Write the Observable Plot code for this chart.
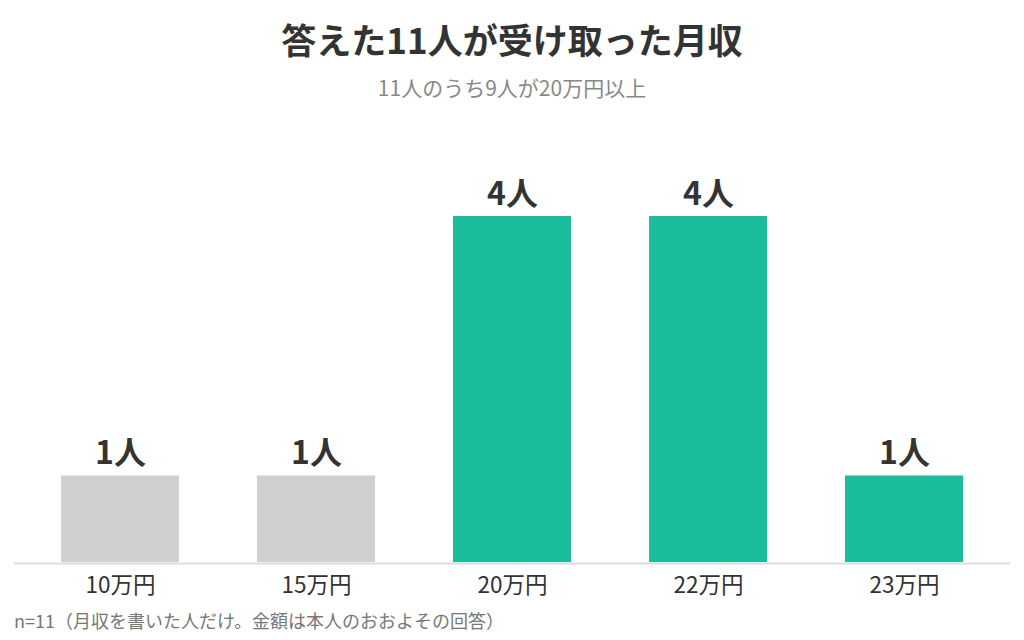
<!DOCTYPE html>
<html>
<head>
<meta charset="utf-8">
<script src="https://cdn.jsdelivr.net/npm/d3@7"></script>
<script src="https://cdn.jsdelivr.net/npm/@observablehq/plot@0.6"></script>
<style>
  html, body { margin: 0; padding: 0; background: #fff; }
  body { font-family: "Noto Sans CJK JP", "Noto Sans", sans-serif; }
  #wrap { position: relative; width: 1024px; height: 640px; overflow: hidden; }
  #title { position: absolute; left: 0; width: 1024px; top: 19px; line-height: 40px; text-align: center;
           font-size: 35px; font-weight: 700; color: #333; }
  #subtitle { position: absolute; left: 0; width: 1024px; top: 75px; line-height: 24px; text-align: center;
              font-size: 21px; color: #888; }
  #chart { position: absolute; left: 0; top: 110px; }
  #caption { position: absolute; left: 14px; top: 610px; line-height: 20px; font-size: 18px; color: #777; }
</style>
</head>
<body>
<div id="wrap">
  <div id="title">答えた11人が受け取った月収</div>
  <div id="subtitle">11人のうち9人が20万円以上</div>
  <div id="chart"></div>
  <div id="caption">n=11（月収を書いた人だけ。金額は本人のおおよその回答）</div>
</div>
<script>
const categories = ["10万円", "15万円", "20万円", "22万円", "23万円"];
const counts = [1, 1, 4, 4, 1];
const highlighted = [false, false, true, true, true];
const unit = "人";

const data = categories.map((c, i) => ({
  label: c,
  count: counts[i],
  group: highlighted[i] ? "20万円以上" : "20万円未満"
}));

const chart = Plot.plot({
  width: 1024,
  height: 500,
  marginLeft: 14,
  marginRight: 14,
  marginTop: 106,
  marginBottom: 48,
  style: { fontFamily: "'Noto Sans CJK JP', 'Noto Sans', sans-serif", background: "transparent" },
  x: { domain: categories, paddingInner: 0.4, paddingOuter: 0.234, label: null },
  y: { domain: [0, 4], axis: null },
  color: { domain: ["20万円未満", "20万円以上"], range: ["#d0d0d0", "#1abc9c"] },
  marks: [
    Plot.barY(data, { x: "label", y: "count", fill: "group" }),
    Plot.ruleY([0], { stroke: "#dcdcdc", strokeWidth: 2, dy: 1 }),
    Plot.text(data, {
      x: "label", y: "count", text: d => `${d.count}${unit}`,
      dy: -22, lineAnchor: "middle", fontSize: 32, fontWeight: "bold", fill: "#333"
    }),
    Plot.axisX({ tickSize: 0, tickPadding: 15, fontSize: 22.5, fill: "#333", label: null })
  ]
});
document.getElementById("chart").appendChild(chart);
</script>
</body>
</html>
